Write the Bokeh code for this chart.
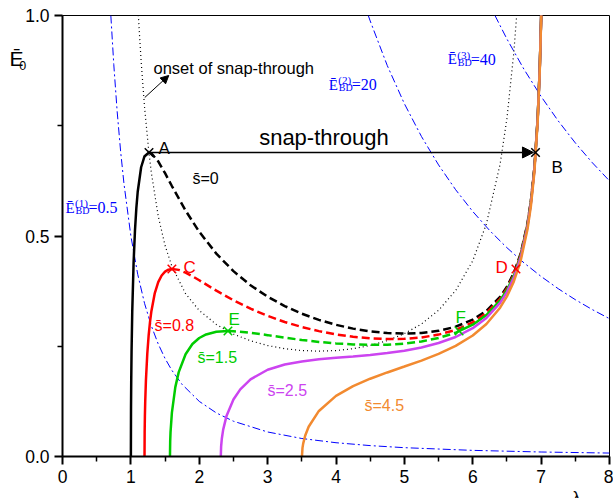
from bokeh.plotting import figure
from bokeh.models import Label, Arrow, NormalHead, FixedTicker, PrintfTickFormatter
from bokeh.embed import file_html
from bokeh.resources import INLINE

# ---------------- data ----------------
# s = 0 (black)
s0_up_x = [1.0, 1.002, 1.005, 1.01, 1.02, 1.04, 1.06, 1.08, 1.1, 1.15, 1.2, 1.265]
s0_up_y = [0.0, 0.11, 0.17, 0.2384, 0.3281, 0.4403, 0.5124, 0.5631, 0.6003, 0.6559, 0.6809, 0.6894]
s0_dash_x = [1.265, 1.3, 1.4, 1.5, 1.6, 1.8, 2.0, 2.25, 2.5, 2.75, 3.0, 3.25, 3.5, 3.75, 4.0,
             4.25, 4.5, 4.75, 5.0, 5.25, 5.5, 5.75, 6.0, 6.2, 6.4, 6.5, 6.6, 6.7, 6.8, 6.85, 6.9, 6.918]
s0_dash_y = [0.6894, 0.6875, 0.6692, 0.6424, 0.6133, 0.5577, 0.5096, 0.4600, 0.4203, 0.3883, 0.3623,
             0.3411, 0.3238, 0.3098, 0.2986, 0.2900, 0.2837, 0.2799, 0.2786, 0.2800, 0.2849, 0.2943,
             0.3102, 0.3304, 0.3619, 0.3849, 0.4158, 0.4598, 0.5282, 0.5796, 0.6529, 0.6894]
s0_top_x = [6.918, 6.95, 6.98, 7.0, 7.01]
s0_top_y = [0.6894, 0.7691, 0.8821, 0.9949, 1.0713]

# s = 0.8 (red)
s08_up_x = [1.1996, 1.2015, 1.205, 1.21, 1.22, 1.24, 1.26, 1.28, 1.3, 1.35, 1.4, 1.45, 1.5, 1.55, 1.6]
s08_up_y = [0.0, 0.0546, 0.092, 0.1253, 0.1721, 0.2330, 0.2745, 0.3054, 0.3295, 0.3707, 0.3953,
            0.4104, 0.4191, 0.4236, 0.4252]
s08_dash_x = [1.6, 1.7, 1.8, 1.9, 2.0, 2.25, 2.5, 2.75, 3.0, 3.25, 3.5, 3.75, 4.0, 4.25, 4.5,
              4.75, 5.0, 5.25, 5.5, 5.75, 6.0, 6.2, 6.4, 6.5, 6.6, 6.632]
s08_dash_y = [0.4252, 0.4232, 0.4169, 0.4087, 0.3996, 0.3760, 0.3543, 0.3352, 0.3189, 0.3050,
              0.2935, 0.2843, 0.2769, 0.2714, 0.2678, 0.2662, 0.2668, 0.2699, 0.2764, 0.2870,
              0.3041, 0.3253, 0.3577, 0.3810, 0.4125, 0.4252]
s08_top_x = [6.632, 6.7, 6.8, 6.85, 6.9, 6.95, 6.98, 7.0, 7.01]
s08_top_y = [0.4252, 0.4569, 0.5258, 0.5774, 0.6510, 0.7675, 0.8808, 0.9937, 1.07]

# s = 1.5 (green)
s15_up_x = [1.5717, 1.575, 1.58, 1.6, 1.65, 1.7, 1.8, 1.9, 2.0, 2.1, 2.25, 2.42]
s15_up_y = [0.0, 0.0348, 0.0552, 0.0994, 0.1573, 0.1913, 0.2319, 0.2550, 0.2687, 0.2767, 0.2827, 0.2845]
s15_dash_x = [2.42, 2.5, 2.75, 3.0, 3.25, 3.5, 3.75, 4.0, 4.25, 4.5, 4.75, 5.0, 5.25, 5.5, 5.75, 5.8]
s15_dash_y = [0.2845, 0.2841, 0.2805, 0.2752, 0.2695, 0.2642, 0.2599, 0.2564, 0.2541, 0.2531,
              0.2536, 0.2561, 0.2608, 0.2687, 0.2806, 0.2845]
s15_top_x = [5.8, 6.0, 6.2, 6.4, 6.5, 6.6, 6.7, 6.8, 6.85, 6.9, 6.95, 6.98, 7.0, 7.01]
s15_top_y = [0.2845, 0.2988, 0.3208, 0.3540, 0.3777, 0.4095, 0.4543, 0.5237, 0.5755, 0.6494,
             0.7662, 0.8796, 0.9927, 1.07]

# s = 2.5 (magenta)
s25_x = [2.315, 2.32, 2.33, 2.35, 2.4, 2.5, 2.6, 2.75, 3.0, 3.25, 3.5, 3.75, 4.0, 4.25, 4.5, 4.75,
         5.0, 5.25, 5.5, 5.75, 6.0, 6.2, 6.4, 6.5, 6.6, 6.7, 6.8, 6.85, 6.9, 6.95, 6.98, 7.0, 7.01]
s25_y = [0.0, 0.0232, 0.0402, 0.0609, 0.0926, 0.1292, 0.1523, 0.1749, 0.1967, 0.2085, 0.2156,
         0.2204, 0.2239, 0.2270, 0.2304, 0.2345, 0.2400, 0.2472, 0.2573, 0.2710, 0.2909, 0.3142,
         0.3485, 0.3728, 0.4052, 0.4507, 0.5206, 0.5728, 0.6471, 0.7642, 0.8779, 0.9912, 1.07]

# s = 4.5 (orange)
s45_x = [3.502, 3.51, 3.52, 3.55, 3.6, 3.75, 4.0, 4.25, 4.5, 4.75, 5.0, 5.25, 5.5, 5.75, 6.0, 6.2,
         6.4, 6.5, 6.6, 6.7, 6.8, 6.85, 6.9, 6.95, 6.98, 7.0, 7.01]
s45_y = [0.0, 0.0195, 0.0293, 0.0477, 0.0674, 0.1033, 0.1374, 0.1596, 0.1764, 0.1906, 0.2040,
         0.2175, 0.2327, 0.2509, 0.2745, 0.3005, 0.3374, 0.3629, 0.3965, 0.4432, 0.5145, 0.5674,
         0.6423, 0.7603, 0.8746, 0.9883, 1.07]

# onset of snap-through (dotted)
onset_x = [1.1, 1.12, 1.15, 1.2, 1.26, 1.3, 1.4, 1.5, 1.6, 1.8, 2.0, 2.25, 2.5, 2.75, 3.0, 3.25,
           3.5, 3.75, 4.0, 4.25, 4.5, 4.75, 5.0, 5.25, 5.5, 5.75, 6.0, 6.2, 6.4, 6.5, 6.6, 6.65]
onset_y = [1.028, 0.9714, 0.8962, 0.7922, 0.6949, 0.6429, 0.5450, 0.4784, 0.4311, 0.3692, 0.3311,
           0.2994, 0.2777, 0.2624, 0.2516, 0.2444, 0.2403, 0.2389, 0.2402, 0.2444, 0.2517, 0.2628,
           0.2786, 0.3006, 0.3316, 0.3763, 0.4439, 0.5276, 0.6628, 0.7666, 0.9150, 1.0158]

# breakdown curves (blue dash-dot)
bd1_x = [0.707, 0.75, 0.8, 0.85, 0.9, 1.0, 1.1, 1.2, 1.3, 1.4, 1.5, 1.6, 1.75, 2.0, 2.25, 2.5,
         3.0, 3.5, 4.0, 4.5, 5.0, 6.0, 7.0, 8.0]
bd1_y = [1.0, 0.8889, 0.7813, 0.6920, 0.6173, 0.5, 0.4132, 0.3472, 0.2959, 0.2551, 0.2222, 0.1953,
         0.1633, 0.125, 0.0988, 0.08, 0.0556, 0.0408, 0.03125, 0.0247, 0.02, 0.0139, 0.0102, 0.0078]
bd2_x = [4.472, 4.5, 4.75, 5.0, 5.25, 5.5, 5.75, 6.0, 6.25, 6.5, 6.75, 7.0, 7.25, 7.5, 7.75, 8.0]
bd2_y = [1.0, 0.9877, 0.8864, 0.8, 0.7256, 0.6612, 0.6049, 0.5556, 0.512, 0.4734, 0.4390, 0.4082,
         0.3805, 0.3556, 0.3330, 0.3125]
bd3_x = [6.325, 6.5, 6.75, 7.0, 7.25, 7.5, 7.75, 8.0]
bd3_y = [1.0, 0.9467, 0.8779, 0.8163, 0.7610, 0.7111, 0.6660, 0.625]

# marked points
pts_black = ([1.265, 6.918], [0.6894, 0.6894])   # A, B
pts_red = ([1.6, 6.632], [0.4252, 0.4252])       # C, D
pts_green = ([2.42, 5.8], [0.2845, 0.2845])      # E, F

x_ticks = [0, 1, 2, 3, 4, 5, 6, 7, 8]
x_minor = [0.5, 1.5, 2.5, 3.5, 4.5, 5.5, 6.5, 7.5]
y_ticks = [0.0, 0.5, 1.0]
y_minor = [0.25, 0.75]

BLACK = "#000000"
RED = "#ff0000"
GREEN = "#00cc00"
MAGENTA = "#cc44f0"
ORANGE = "#f28a30"
BLUE = "#0000ff"
SANS = "Liberation Sans"
SERIF = "Liberation Serif"

PXX = 68.375  # px per x unit
PXY = 441.0   # px per y unit

p = figure(width=613, height=498, x_range=(0, 8), y_range=(0, 1),
           output_backend="svg", toolbar_location=None,
           min_border_left=62, min_border_right=4, min_border_top=15, min_border_bottom=42)
p.background_fill_color = "white"
p.border_fill_color = "white"
p.xgrid.visible = False
p.ygrid.visible = False
p.outline_line_color = "black"
p.outline_line_width = 1

for ax in (p.xaxis[0], p.yaxis[0]):
    ax.axis_line_width = 2
    ax.major_tick_out = 8
    ax.major_tick_in = 0
    ax.minor_tick_out = 5
    ax.minor_tick_in = 0
    ax.major_tick_line_width = 2
    ax.minor_tick_line_width = 1.5
    ax.major_label_text_font = SANS
    ax.major_label_text_font_size = "17.5px"
    ax.major_label_text_color = "black"
    ax.major_label_standoff = 5
p.xaxis.ticker = FixedTicker(ticks=x_ticks, minor_ticks=x_minor)
p.yaxis.ticker = FixedTicker(ticks=y_ticks, minor_ticks=y_minor)
p.xaxis.formatter = PrintfTickFormatter(format="%d")
p.yaxis.formatter = PrintfTickFormatter(format="%.1f")

# breakdown curves
for bx, by in ((bd1_x, bd1_y), (bd2_x, bd2_y), (bd3_x, bd3_y)):
    p.line(bx, by, line_color=BLUE, line_width=1, line_dash="8 3 2 3")

# onset locus
p.line(onset_x, onset_y, line_color=BLACK, line_width=1.2, line_dash="1 3")

LW = 2.5
DASH = "8 4"
# s = 0
p.line(s0_up_x, s0_up_y, line_color=BLACK, line_width=LW)
p.line(s0_dash_x, s0_dash_y, line_color=BLACK, line_width=LW, line_dash=DASH)
p.line(s0_top_x, s0_top_y, line_color=BLACK, line_width=LW)
# s = 0.8
p.line(s08_up_x, s08_up_y, line_color=RED, line_width=LW)
p.line(s08_dash_x, s08_dash_y, line_color=RED, line_width=LW, line_dash=DASH)
p.line(s08_top_x, s08_top_y, line_color=RED, line_width=LW)
# s = 1.5
p.line(s15_up_x, s15_up_y, line_color=GREEN, line_width=LW)
p.line(s15_dash_x, s15_dash_y, line_color=GREEN, line_width=LW, line_dash=DASH)
p.line(s15_top_x, s15_top_y, line_color=GREEN, line_width=LW)
# s = 2.5, 4.5
p.line(s25_x, s25_y, line_color=MAGENTA, line_width=LW)
p.line(s45_x, s45_y, line_color=ORANGE, line_width=LW)

# markers
p.scatter(pts_black[0], pts_black[1], marker="x", size=12, line_color=BLACK, line_width=1.5)
p.scatter(pts_red[0], pts_red[1], marker="x", size=12, line_color=RED, line_width=1.5)
p.scatter(pts_green[0], pts_green[1], marker="x", size=12, line_color=GREEN, line_width=1.5)

# snap-through arrow A -> B
p.add_layout(Arrow(end=NormalHead(size=11, fill_color=BLACK, line_color=BLACK, line_width=1),
                   x_start=pts_black[0][0], y_start=pts_black[1][0],
                   x_end=pts_black[0][1] - 0.03, y_end=pts_black[1][1],
                   line_color=BLACK, line_width=1.5))
# onset arrow
p.add_layout(Arrow(end=NormalHead(size=8, fill_color=BLACK, line_color=BLACK, line_width=1),
                   x_start=1.203, y_start=0.814, x_end=1.554, y_end=0.864,
                   line_color=BLACK, line_width=1))


def lab(x, y, text, color=BLACK, size="16px", font=SANS, align="left", base="alphabetic",
        units="data", place="center"):
    p.add_layout(Label(x=x, y=y, text=text, text_color=color, text_font=font,
                       text_font_size=size, text_align=align, text_baseline=base,
                       x_units=units, y_units=units), place)


# point labels
lab(1.404, 0.698, "A", size="17px")
lab(7.152, 0.655, "B", size="17px")
lab(1.770, 0.4286, "C", RED, size="17px")
lab(6.333, 0.4286, "D", RED, size="17px")
lab(2.428, 0.3107, "E", GREEN, size="17px")
lab(5.748, 0.3152, "F", GREEN, size="17px")

# s labels
SB = "s\u0304"
lab(1.901, 0.6304, SB + "=0")
lab(1.346, 0.297, SB + "=0.8", RED)
lab(1.974, 0.2245, SB + "=1.5", GREEN)
lab(2.998, 0.1497, SB + "=2.5", MAGENTA)
lab(4.417, 0.1156, SB + "=4.5", ORANGE)

lab(3.824, 0.7234, "snap-through", size="22px", align="center")
lab(1.331, 0.882, "onset of snap-through", size="16.5px")


def bd_label(x0, y0, n, val):
    lab(x0, y0, "\u0112", BLUE, "15px", SERIF)
    lab(x0 + 9.5 / PXX, y0 + 4.5 / PXY, "(" + n + ")", BLUE, "11px", SERIF)
    lab(x0 + 10.0 / PXX, y0 - 2.8 / PXY, "BD", BLUE, "10px", SERIF)
    lab(x0 + 23.0 / PXX, y0, "=" + val, BLUE, "16px", SERIF)


bd_label(0.0439, 0.5635, "1", "0.5")
bd_label(3.895, 0.8435, "2", "20")
bd_label(5.635, 0.9009, "3", "40")

# axis titles outside the frame (in side panels, canvas pixels from top-left)
lab(9, 58, "\u0112", BLACK, "21px", units="canvas", place="left")
lab(18.7, 65, "0", BLACK, "12.5px", units="canvas", place="above")
lab(572, 488, "\u03bb", BLACK, "16px", base="top", units="canvas", place="left")

open("out.html", "w").write(file_html(p, INLINE))
